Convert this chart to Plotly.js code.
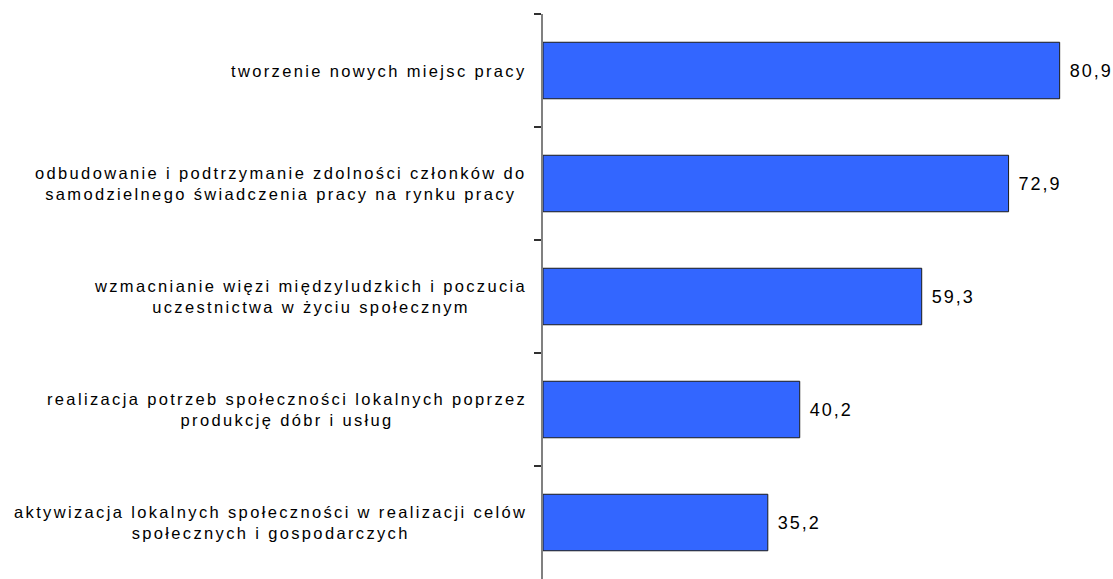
<!DOCTYPE html>
<html>
<head>
<meta charset="utf-8">
<script src="https://cdn.plot.ly/plotly-3.0.1.min.js"></script>
<style>
  html, body { margin: 0; padding: 0; background: #fff; }
  #chart { width: 1113px; height: 579px; }
  text.annotation-text { letter-spacing: 2.35px; }
  text.bartext { letter-spacing: 2px; }
</style>
</head>
<body>
<div id="chart"></div>
<script>
const categories = [
  "tworzenie nowych miejsc pracy",
  "odbudowanie i podtrzymanie zdolności członków do<br>samodzielnego świadczenia pracy na rynku pracy",
  "wzmacnianie więzi międzyludzkich i poczucia<br>uczestnictwa w życiu społecznym",
  "realizacja potrzeb społeczności lokalnych poprzez<br>produkcję dóbr i usług",
  "aktywizacja lokalnych społeczności w realizacji celów<br>społecznych i gospodarczych"
];
const values = [80.9, 72.9, 59.3, 40.2, 35.2];

const trace = {
  type: "bar",
  orientation: "h",
  x: values,
  y: categories,
  width: 0.5,
  marker: { color: "#3366FF", line: { color: "#1a1a1a", width: 1 } },
  texttemplate: " %{x:.1f}",
  textposition: "outside",
  cliponaxis: false,
  textfont: { family: "Arial, 'Liberation Sans', sans-serif", size: 18, color: "#000" },
  hoverinfo: "skip"
};

const annotations = categories.map(c => ({
  xref: "paper", yref: "y",
  x: 0, y: c,
  xanchor: "right", yanchor: "middle",
  xshift: -14,
  align: "center",
  showarrow: false,
  text: c,
  font: { family: "Arial, 'Liberation Sans', sans-serif", size: 16.5, color: "#000" }
}));

const layout = {
  width: 1113, height: 579,
  margin: { l: 543, r: 8, t: 14, b: 0, pad: 0 },
  paper_bgcolor: "#fff",
  plot_bgcolor: "#fff",
  separators: ", ",
  showlegend: false,
  bargap: 0.5,
  xaxis: { visible: false, range: [0, 88], fixedrange: true },
  yaxis: {
    type: "category",
    autorange: "reversed",
    showline: true, linecolor: "#808080", linewidth: 2,
    ticks: "outside", tickson: "boundaries", ticklen: 7, tickcolor: "#303030", tickwidth: 1.5,
    showticklabels: false, showgrid: false, zeroline: false, fixedrange: true
  },
  annotations: annotations
};

Plotly.newPlot("chart", [trace], layout, { displayModeBar: false, staticPlot: true });
</script>
</body>
</html>
